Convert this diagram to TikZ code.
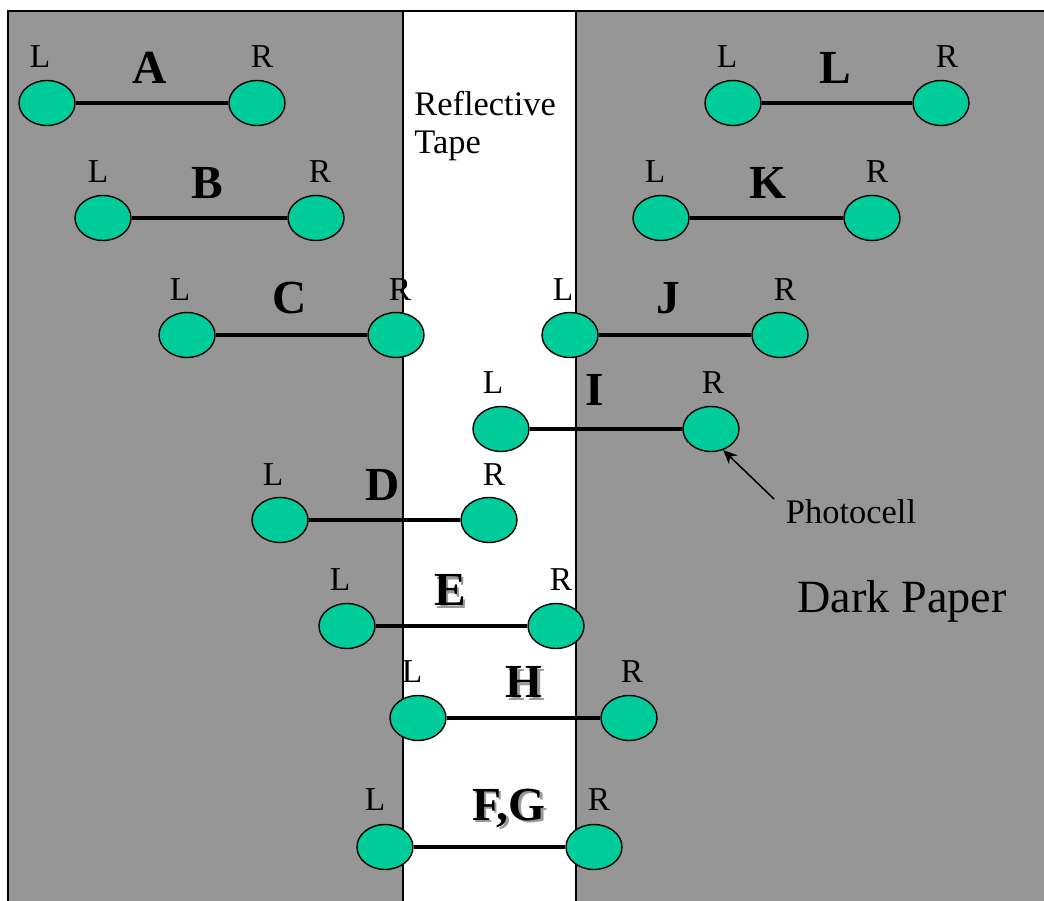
\documentclass[tikz,border=0pt]{standalone}
\usepackage{fontspec}
\setmainfont{Liberation Serif}
\usetikzlibrary{shapes.geometric,arrows.meta}
\definecolor{paper}{RGB}{150,150,150}
\definecolor{cell}{RGB}{0,204,153}
\tikzset{
  pc/.style={ellipse,draw=black,line width=0.8pt,fill=cell,minimum width=1.12cm,minimum height=0.9cm,inner sep=0pt},
  lr/.style={inner sep=0pt,font=\fontsize{19}{19}\selectfont},
  tag/.style={inner sep=0pt,font=\fontsize{27}{27}\selectfont\bfseries},
  shad/.style={inner sep=0pt,font=\fontsize{27}{27}\selectfont\bfseries,text=black!40},
  bar/.style={line width=1.8pt},
  txt/.style={inner sep=0pt,font=\fontsize{19.6}{19.6}\selectfont}
}
\begin{document}
\begin{tikzpicture}[x=0.02cm,y=-0.02cm]
\useasboundingbox (0,0) rectangle (1044,901);
\fill[white] (0,0) rectangle (1044,901);
\draw[fill=paper,line width=1.2pt] (8,11) rectangle (1060,920);
\draw[fill=white,line width=1.2pt] (403,11) rectangle (576,920);

% A
\node[pc] (aL) at (47,103) {}; \node[pc] (aR) at (257,103) {};
\draw[bar] (aL) -- (aR);
\node[lr] (aLt) at (40,57) {L}; \node[lr] (aRt) at (262,57) {R};
\node[tag] (aT) at (150,68) {A};
% B
\node[pc] (bL) at (103,218) {}; \node[pc] (bR) at (316,218) {};
\draw[bar] (bL) -- (bR);
\node[lr] (bLt) at (98,172) {L}; \node[lr] (bRt) at (320,172) {R};
\node[tag] (bT) at (207,183) {B};
% C
\node[pc] (cL) at (187,335) {}; \node[pc] (cR) at (396,335) {};
\draw[bar] (cL) -- (cR);
\node[lr] (cLt) at (180,290) {L}; \node[lr] (cRt) at (400,290) {R};
\node[tag] (cT) at (290,298) {C};
% J
\node[pc] (jL) at (570,335) {}; \node[pc] (jR) at (780,335) {};
\draw[bar] (jL) -- (jR);
\node[lr] (jLt) at (563,290) {L}; \node[lr] (jRt) at (785,290) {R};
\node[tag] (jT) at (668,298) {J};
% I
\node[pc] (iL) at (501,429) {}; \node[pc] (iR) at (711,429) {};
\draw[bar] (iL) -- (iR);
\node[lr] (iLt) at (493,383) {L}; \node[lr] (iRt) at (713,383) {R};
\node[tag] (iT) at (595,390) {I};
% D
\node[pc] (dL) at (280,520) {}; \node[pc] (dR) at (489,520) {};
\draw[bar] (dL) -- (dR);
\node[lr] (dLt) at (273,475) {L}; \node[lr] (dRt) at (494,475) {R};
\node[tag] (dT) at (383,485) {D};
% E
\node[pc] (eL) at (347,626) {}; \node[pc] (eR) at (556,626) {};
\draw[bar] (eL) -- (eR);
\node[lr] (eLt) at (340,580) {L}; \node[lr] (eRt) at (561,580) {R};
\node[shad] (eS) at (452.5,592.5) {E};
\node[tag] (eT) at (450,590) {E};
% H
\node[pc] (hL) at (418,718) {}; \node[pc] (hR) at (629,718) {};
\draw[bar] (hL) -- (hR);
\node[lr] (hLt) at (412,672) {L}; \node[lr] (hRt) at (632,672) {R};
\node[shad] (hS) at (526.5,684.5) {H};
\node[tag] (hT) at (524,682) {H};
% F,G
\node[pc] (fL) at (385,847) {}; \node[pc] (fR) at (594,847) {};
\draw[bar] (fL) -- (fR);
\node[lr] (fLt) at (375,800) {L}; \node[lr] (fRt) at (599,800) {R};
\node[shad] (fS) at (511.5,810.5) {F,G};
\node[tag] (fT) at (509,808) {F,G};
% K
\node[pc] (kL) at (661,218) {}; \node[pc] (kR) at (872,218) {};
\draw[bar] (kL) -- (kR);
\node[lr] (kLt) at (655,172) {L}; \node[lr] (kRt) at (877,172) {R};
\node[tag] (kT) at (768,183) {K};
% L
\node[pc] (lL) at (733,103) {}; \node[pc] (lR) at (941,103) {};
\draw[bar] (lL) -- (lR);
\node[lr] (lLt) at (727,57) {L}; \node[lr] (lRt) at (947,57) {R};
\node[tag] (lT) at (835,68) {L};

% texts
\node[txt,anchor=west] (tape1) at (414,104) {Reflective};
\node[txt,anchor=west] (tape2) at (414,146) {Tape};
\node[txt] (photo) at (851,512) {Photocell};
\node[inner sep=0pt,font=\fontsize{26.3}{26.3}\selectfont] (dark) at (902,601) {Dark Paper};
\coordinate (ptail) at (774,499);
\draw[line width=0.9pt,-{Stealth[length=8pt,width=7pt]}] (ptail) -- (iR.-60);
\end{tikzpicture}
\end{document}
